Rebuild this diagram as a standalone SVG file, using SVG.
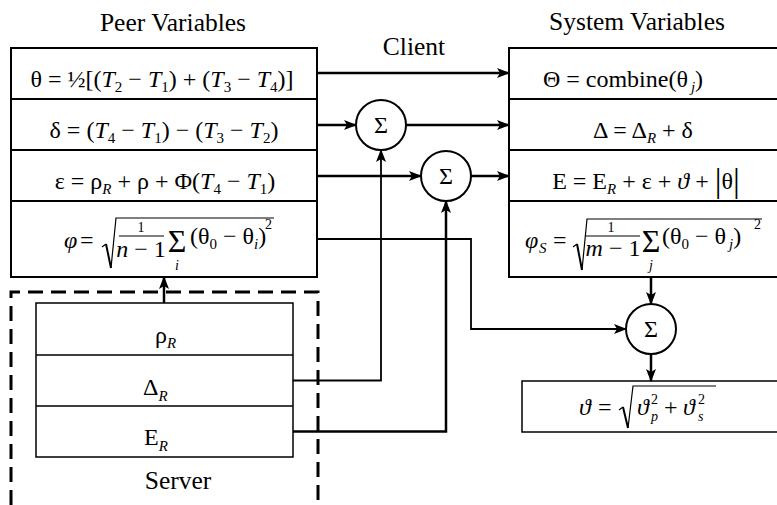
<svg xmlns="http://www.w3.org/2000/svg" width="777" height="505" viewBox="0 0 777 505">
<defs>
<style>
text{font-size:24px;fill:#000}
.t{font-size:25.5px}
.i{font-style:italic}
.s{font-size:15px}
.sm{font-size:14px}
.big{font-size:32px}
.box{fill:#fff;stroke:#000;stroke-width:2}
.div{fill:none;stroke:#000;stroke-width:2}
.srv{fill:#fff;stroke:#000;stroke-width:1.5}
.dash{fill:none;stroke:#000;stroke-width:3;stroke-dasharray:15 8}
.rule{fill:none;stroke:#000;stroke-width:1.2}
.rad{fill:none;stroke:#000;stroke-width:2}
.sum{fill:#fff;stroke:#000;stroke-width:2}
.wire{fill:none;stroke:#000;stroke-width:2.5}
.wire2{fill:none;stroke:#000;stroke-width:1.8}
</style>
<marker id="arrow" markerUnits="userSpaceOnUse" markerWidth="14" markerHeight="12" refX="12" refY="5" orient="auto">
<path d="M0,0 L13,5 L0,10 L3,5 Z" fill="#000"/>
</marker>
</defs>
<rect x="0" y="0" width="777" height="505" fill="#fff"/>

<!-- headings -->
<g id="labels" font-family="Liberation Serif">
<text class="t" x="173" y="31" text-anchor="middle">Peer Variables</text>
<text class="t" x="637" y="30" text-anchor="middle">System Variables</text>
<text class="t" x="414" y="55" text-anchor="middle">Client</text>
</g>

<!-- server enclosure -->
<g id="server" font-family="Liberation Serif">
<path class="dash" d="M11 505V292H318V505"/>
<rect class="srv" x="36" y="303" width="257" height="154"/>
<path class="srv" d="M36 355H293M36 406H293"/>
<text x="155" y="343">ρ<tspan class="s i" dy="5">R</tspan></text>
<text x="143" y="395">Δ<tspan class="s i" dy="6">R</tspan></text>
<text x="144" y="445">E<tspan class="s i" dy="6">R</tspan></text>
<text class="t" x="178" y="489" text-anchor="middle">Server</text>
</g>

<!-- peer variable table -->
<g id="peer" font-family="Liberation Serif">
<rect class="box" x="11" y="48" width="306" height="229"/>
<path class="div" d="M11 99H317M11 150H317M11 201H317"/>
<text x="162" y="87" text-anchor="middle">θ = ½[(<tspan class="i">T</tspan><tspan class="s" dy="5">2</tspan><tspan dy="-5"> − </tspan><tspan class="i">T</tspan><tspan class="s" dy="5">1</tspan><tspan dy="-5">) + (</tspan><tspan class="i">T</tspan><tspan class="s" dy="5">3</tspan><tspan dy="-5"> − </tspan><tspan class="i">T</tspan><tspan class="s" dy="5">4</tspan><tspan dy="-5">)]</tspan></text>
<text x="164" y="138" text-anchor="middle">δ = (<tspan class="i">T</tspan><tspan class="s" dy="5">4</tspan><tspan dy="-5"> − </tspan><tspan class="i">T</tspan><tspan class="s" dy="5">1</tspan><tspan dy="-5">) − (</tspan><tspan class="i">T</tspan><tspan class="s" dy="5">3</tspan><tspan dy="-5"> − </tspan><tspan class="i">T</tspan><tspan class="s" dy="5">2</tspan><tspan dy="-5">)</tspan></text>
<text x="165" y="189" text-anchor="middle">ε = ρ<tspan class="s i" dy="5">R</tspan><tspan dy="-5"> + ρ + Φ(</tspan><tspan class="i">T</tspan><tspan class="s" dy="5">4</tspan><tspan dy="-5"> − </tspan><tspan class="i">T</tspan><tspan class="s" dy="5">1</tspan><tspan dy="-5">)</tspan></text>
<text class="i" x="64" y="248">φ</text>
<text x="80" y="248">=</text>
<path class="rule" d="M102 247L106 244"/>
<path class="rad" d="M106 244L111 268"/>
<path class="rule" d="M111 268L116 218H274"/>
<text class="sm" x="141" y="232" text-anchor="middle">1</text>
<path class="rule" d="M119 236H164"/>
<text x="141" y="257" text-anchor="middle"><tspan class="i">n</tspan> − 1</text>
<text class="big" x="177" y="252" text-anchor="middle">Σ</text>
<text class="sm i" x="177" y="270" text-anchor="middle">i</text>
<text x="190" y="244">(θ<tspan class="s" dy="5">0</tspan><tspan dy="-5"> − θ</tspan><tspan class="s i" dy="5">i</tspan><tspan dy="-5">)</tspan></text>
<text class="sm" x="265" y="229">2</text>
</g>

<!-- system variable table -->
<g id="system" font-family="Liberation Serif">
<rect class="box" x="509" y="48" width="290" height="229"/>
<path class="div" d="M509 99H799M509 150H799M509 201H799"/>
<text x="623" y="87" text-anchor="middle">Θ = combine(θ<tspan class="s i" dx="3" dy="5">j</tspan><tspan dy="-5">)</tspan></text>
<text x="643" y="138" text-anchor="middle">Δ = Δ<tspan class="s i" dy="5">R</tspan><tspan dy="-5"> + δ</tspan></text>
<text x="646" y="189" text-anchor="middle">E = E<tspan class="s i" dy="5">R</tspan><tspan dy="-5"> + ε + </tspan><tspan class="i">ϑ</tspan> + <tspan style="font-size:34px" dy="3">|</tspan><tspan dy="-3">θ</tspan><tspan style="font-size:34px" dy="3">|</tspan></text>
<text class="i" x="525" y="248">φ</text>
<text class="s i" x="539" y="253">S</text>
<text x="553" y="248">=</text>
<path class="rule" d="M573 247L577 244"/>
<path class="rad" d="M577 244L582 270"/>
<path class="rule" d="M582 270L587 219H762"/>
<text class="sm" x="611" y="232" text-anchor="middle">1</text>
<path class="rule" d="M586 236H640"/>
<text x="613" y="256" text-anchor="middle"><tspan class="i">m</tspan> − 1</text>
<text class="big" x="651" y="252" text-anchor="middle">Σ</text>
<text class="sm i" x="651" y="270" text-anchor="middle">j</text>
<text x="662" y="244">(θ<tspan class="s" dy="5">0</tspan><tspan dy="-5"> − θ</tspan><tspan class="s i" dx="3" dy="5">j</tspan><tspan dy="-5">)</tspan></text>
<text class="sm" x="754" y="229">2</text>
</g>

<!-- combined deviation -->
<g id="theta-total" font-family="Liberation Serif">
<rect class="srv" x="522" y="381" width="270" height="51"/>
<text class="i" x="579" y="415">ϑ</text>
<text x="598" y="415">=</text>
<path class="rule" d="M619 410L623 407"/>
<path class="rad" d="M623 407L628 428"/>
<path class="rule" d="M628 428L633 386H716"/>
<text class="i" x="637" y="415">ϑ</text>
<text class="sm" x="651" y="404">2</text>
<text class="sm i" x="651" y="421">p</text>
<text x="664" y="415">+</text>
<text class="i" x="683" y="415">ϑ</text>
<text class="sm" x="698" y="404">2</text>
<text class="sm i" x="698" y="421">s</text>
</g>

<!-- summing junctions -->
<g id="sum1" font-family="Liberation Serif"><circle class="sum" cx="381" cy="125" r="25"/><text x="381" y="133" text-anchor="middle">Σ</text></g>
<g id="sum2" font-family="Liberation Serif"><circle class="sum" cx="446" cy="176" r="25"/><text x="446" y="184" text-anchor="middle">Σ</text></g>
<g id="sum3" font-family="Liberation Serif"><circle class="sum" cx="651" cy="329" r="25"/><text x="651" y="337" text-anchor="middle">Σ</text></g>

<!-- connectors -->
<g id="connectors">
<path class="wire" d="M317 73H509" marker-end="url(#arrow)"/>
<path class="wire" d="M317 125H356" marker-end="url(#arrow)"/>
<path class="wire" d="M406 125H509" marker-end="url(#arrow)"/>
<path class="wire" d="M317 176H421" marker-end="url(#arrow)"/>
<path class="wire" d="M471 176H509" marker-end="url(#arrow)"/>
<path class="wire2" d="M293 380.5H381V150" marker-end="url(#arrow)"/>
<path class="wire" d="M293 431.5H446V201" marker-end="url(#arrow)"/>
<path class="wire2" d="M317 239H471V329H626" marker-end="url(#arrow)"/>
<path class="wire" d="M651 277V304" marker-end="url(#arrow)"/>
<path class="wire" d="M651 354V381" marker-end="url(#arrow)"/>
<path class="wire" d="M164 303V277" marker-end="url(#arrow)"/>
</g>
</svg>
